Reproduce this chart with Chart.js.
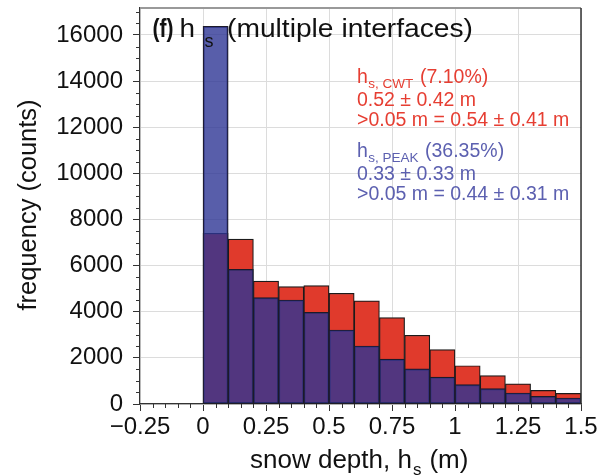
<!DOCTYPE html>
<html><head><meta charset="utf-8">
<script src="https://cdn.jsdelivr.net/npm/chart.js@4.4.1/dist/chart.umd.min.js"></script>
<style>html,body{margin:0;padding:0;background:#fff;}#wrap{width:606px;height:476px;position:relative;}</style>
</head><body><div id="wrap"><canvas id="c" width="606" height="476"></canvas></div>
<script>
// bin centres (m), bin width 0.1 m
const binCenters = [0.05, 0.15, 0.25, 0.35, 0.45, 0.55, 0.65, 0.75, 0.85, 0.95, 1.05, 1.15, 1.25, 1.35, 1.45];
const cwtCounts  = [7400, 7150, 5330, 5090, 5130, 4800, 4470, 3750, 2980, 2360, 1660, 1230, 870, 590, 460];
const peakCounts = [16380, 5840, 4610, 4510, 3975, 3210, 2515, 1945, 1520, 1170, 840, 665, 477, 333, 260];
const xTickValues = [-0.25, 0, 0.25, 0.5, 0.75, 1, 1.25, 1.5];
const xTickLabels = ['\u22120.25', '0', '0.25', '0.5', '0.75', '1', '1.25', '1.5'];
const yTickValues = [0, 2000, 4000, 6000, 8000, 10000, 12000, 14000, 16000];
const yTickLabels = ['0', '2000', '4000', '6000', '8000', '10000', '12000', '14000', '16000'];
const titleParts = ['(f)', 'h', 's', '(multiple interfaces)'];
const cwtText = ['h', 's, CWT', '(7.10%)', '0.52 \u00b1 0.42 m', '>0.05 m = 0.54 \u00b1 0.41 m'];
const peakText = ['h', 's, PEAK', '(36.35%)', '0.33 \u00b1 0.33 m', '>0.05 m = 0.44 \u00b1 0.31 m'];
const xTitle = ['snow depth, h', 's', '(m)'];
const yTitle = 'frequency (counts)';

const FF = "'Liberation Sans', Arial, Helvetica, sans-serif";
const RED = 'rgb(224,58,44)';
const BLUE = 'rgba(46,54,149,0.8)';
const RED_TXT = 'rgb(230,62,50)';
const BLUE_TXT = 'rgb(92,96,176)';

function font(size, bold){ return (bold ? 'bold ' : '') + size + 'px ' + FF; }

// draw text stretched horizontally to a given width
function fillTextW(ctx, text, x, y, width) {
  const w = ctx.measureText(text).width;
  ctx.save();
  ctx.translate(x, y);
  ctx.scale(width / w, 1);
  ctx.fillText(text, 0, 0);
  ctx.restore();
}

const overlay = {
  id: 'overlay',
  afterDraw(chart) {
    const {ctx, chartArea: a, scales: {x, y}} = chart;
    ctx.save();
    // frame
    ctx.strokeStyle = '#999'; ctx.lineWidth = 2;
    ctx.beginPath(); ctx.moveTo(a.left, a.top); ctx.lineTo(a.right, a.top); ctx.stroke();
    ctx.strokeStyle = '#333'; ctx.lineWidth = 1.5;
    ctx.beginPath(); ctx.moveTo(a.right, a.top); ctx.lineTo(a.right, a.bottom); ctx.stroke();
    // minor ticks
    ctx.strokeStyle = '#333'; ctx.lineWidth = 1;
    for (let k = -5; k <= 30; k++) {
      if (k % 5 === 0) continue;
      const px = Math.round(x.getPixelForValue(k * 0.05)) + 0.5;
      ctx.beginPath(); ctx.moveTo(px, a.bottom); ctx.lineTo(px, a.bottom + 4); ctx.stroke();
    }
    for (let k = 1; k * 500 <= y.max; k++) {
      if (k % 4 === 0) continue;
      const py = Math.round(y.getPixelForValue(k * 500)) + 0.5;
      ctx.beginPath(); ctx.moveTo(a.left - 4, py); ctx.lineTo(a.left, py); ctx.stroke();
    }
    ctx.textBaseline = 'alphabetic'; ctx.textAlign = 'left';
    // title
    ctx.fillStyle = '#111';
    ctx.font = font(25, true); fillTextW(ctx, titleParts[0], 152.5, 37, 21);
    ctx.font = font(25, false); fillTextW(ctx, titleParts[1], 179.5, 37, 15.5);
    ctx.font = font(18, false); ctx.fillText(titleParts[2], 204.5, 46.5);
    ctx.font = font(25.5, false); fillTextW(ctx, titleParts[3], 227, 37, 246);
    // annotations
    function block(lines, color, y0, y1, y2, xParen) {
      ctx.fillStyle = color;
      ctx.font = font(19.5, false); ctx.fillText(lines[0], 357, y0);
      const hw = ctx.measureText(lines[0]).width;
      ctx.font = font(13.5, false); ctx.fillText(lines[1], 357 + hw + 0.5, y0 + 5);
      ctx.font = font(19.5, false); ctx.fillText(lines[2], xParen, y0);
      ctx.fillText(lines[3], 357, y1);
      ctx.fillText(lines[4], 357, y2);
    }
    block(cwtText, RED_TXT, 83, 106, 126, 420);
    block(peakText, BLUE_TXT, 157, 180, 200, 425);
    // x title
    ctx.fillStyle = '#111';
    ctx.font = font(26, false); ctx.fillText(xTitle[0], 250, 468);
    let w = ctx.measureText(xTitle[0]).width;
    ctx.font = font(17, false); ctx.fillText(xTitle[1], 250 + w + 1, 475);
    const ws = ctx.measureText(xTitle[1]).width;
    ctx.font = font(26, false); ctx.fillText(xTitle[2], 250 + w + ws + 9, 468);
    // y title
    ctx.save();
    ctx.translate(36, 205); ctx.rotate(-Math.PI / 2);
    ctx.textAlign = 'center';
    ctx.font = font(25.5, false); ctx.fillText(yTitle, 0, 0);
    ctx.restore();
    ctx.restore();
  }
};

const mk = (arr) => binCenters.map((c, i) => ({x: c, y: arr[i]}));

new Chart(document.getElementById('c'), {
  type: 'bar',
  data: {
    datasets: [
      {label: 'PEAK', data: mk(peakCounts), backgroundColor: BLUE, borderColor: '#1c1a2a',
       borderWidth: 1.2, borderSkipped: false, grouped: false, barPercentage: 1, categoryPercentage: 1, order: 0},
      {label: 'CWT', data: mk(cwtCounts), backgroundColor: RED, borderColor: '#1c1a1a',
       borderWidth: 1.2, borderSkipped: false, grouped: false, barPercentage: 1, categoryPercentage: 1, order: 1}
    ]
  },
  options: {
    responsive: false, animation: false, devicePixelRatio: 1,
    layout: {padding: {top: 8, right: 25, left: 0, bottom: 0}},
    plugins: {legend: {display: false}, tooltip: {enabled: false}},
    scales: {
      x: {
        type: 'linear', min: -0.25, max: 1.5, offset: false,
        afterBuildTicks: (s) => { s.ticks = xTickValues.map(v => ({value: v})); },
        afterFit: (s) => { s.height = 72; s.paddingLeft = 0; s.paddingRight = 0; },
        ticks: {callback: (v) => xTickLabels[xTickValues.indexOf(v)], font: {family: FF, size: 24},
                color: '#111', padding: 2, maxRotation: 0, autoSkip: false},
        grid: {color: '#dcdcdc', lineWidth: 1, tickLength: 7, tickColor: '#333', offset: false, drawOnChartArea: true},
        border: {display: true, color: '#333', width: 1.2}
      },
      y: {
        type: 'linear', min: 0, max: 17170,
        afterBuildTicks: (s) => { s.ticks = yTickValues.map(v => ({value: v})); },
        afterFit: (s) => { s.width = 140; s.paddingTop = 0; s.paddingBottom = 0; },
        ticks: {callback: (v) => yTickLabels[yTickValues.indexOf(v)], font: {family: FF, size: 24},
                color: '#111', padding: 10},
        grid: {color: '#dcdcdc', lineWidth: 1, tickLength: 7, tickColor: '#333', drawOnChartArea: true},
        border: {display: true, color: '#333', width: 1.2}
      }
    }
  },
  plugins: [overlay]
});
</script></body></html>
